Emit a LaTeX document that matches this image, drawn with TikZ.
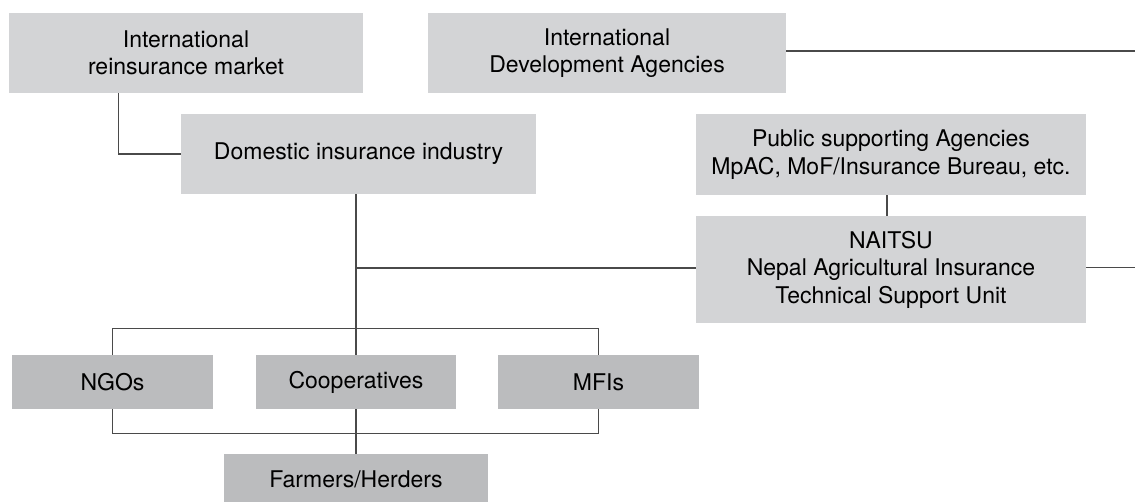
\documentclass[tikz,border=0pt]{standalone}
\usepackage{fontspec}
\setmainfont{TeX Gyre Heros}
\definecolor{boxlight}{HTML}{D3D4D6}
\definecolor{boxdark}{HTML}{BBBCBE}
\definecolor{linegray}{HTML}{4A4A4A}
\begin{document}
\begin{tikzpicture}[x=1pt,y=-1pt,
  lightbox/.style={fill=boxlight,draw=none,inner sep=0pt,align=center,font=\fontsize{23}{27.5}\selectfont},
  darkbox/.style={fill=boxdark,draw=none,inner sep=0pt,align=center,font=\fontsize{23}{27.5}\selectfont},
  conn/.style={draw=linegray,line width=1.3pt}]
\useasboundingbox (0,0) rectangle (1135,502);
\node[lightbox,minimum width=354pt,minimum height=80pt] (irm) at (186,53) {International\\reinsurance market};
\node[lightbox,minimum width=358pt,minimum height=80pt] (ida) at (607,53) {International\\Development Agencies};
\node[lightbox,minimum width=355pt,minimum height=80pt] (dom) at (358.5,154) {Domestic insurance industry};
\node[lightbox,minimum width=390pt,minimum height=81pt] (pub) at (891,154.5) {Public supporting Agencies\\MpAC, MoF/Insurance Bureau, etc.};
\node[lightbox,minimum width=390pt,minimum height=107pt] (nai) at (891,269.5) {NAITSU\\Nepal Agricultural Insurance\\Technical Support Unit};
\node[darkbox,minimum width=201pt,minimum height=54pt] (ngo) at (112.5,382) {NGOs};
\node[darkbox,minimum width=200pt,minimum height=54pt] (coop) at (356,382) {Cooperatives};
\node[darkbox,minimum width=201pt,minimum height=54pt] (mfi) at (598.5,382) {MFIs};
\node[darkbox,minimum width=264pt,minimum height=50pt] (farm) at (356,479) {Farmers/Herders};
\coordinate (redge) at (1135,0);
\draw[conn] ([xshift=110pt]irm.south west) |- (dom.west);
\draw[conn] ([yshift=2pt]ida.east) -- ([yshift=2pt]ida.east -| redge);
\draw[conn] ([yshift=2pt]nai.east) -- ([yshift=2pt]nai.east -| redge);
\draw[conn] ([xshift=-4pt]pub.south) -- ([xshift=-4pt]pub.south |- nai.north);
\draw[conn] (coop.north |- dom.south) -- (coop.north);
\draw[conn] ([yshift=1.5pt]coop.north |- nai.west) -- ([yshift=1.5pt]nai.west);
\draw[conn] (ngo.north) -- ++(0,-26) -| (mfi.north);
\draw[conn] (ngo.south) -- ++(0,24) -| (mfi.south);
\draw[conn] (coop.south) -- (farm.north);
\end{tikzpicture}
\end{document}
